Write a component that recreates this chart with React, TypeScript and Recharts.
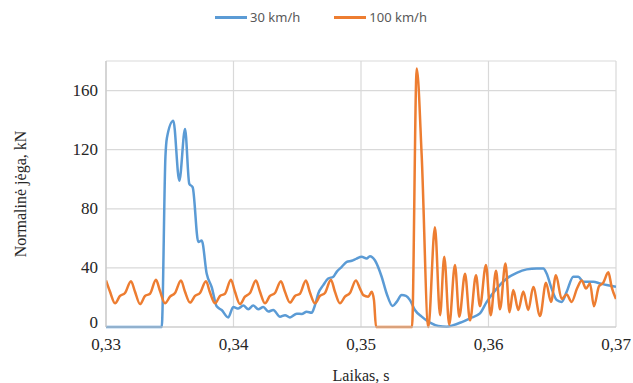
import React from 'react';
import { LineChart, Line, XAxis, YAxis, CartesianGrid, Legend } from 'recharts';

// Time axis (s) and normal force axis (kN)
const timeTicks = [0.33, 0.34, 0.35, 0.36, 0.37];
const forceTicks = [0, 40, 80, 120, 160];
const seriesNames = ['30 km/h', '100 km/h'];

// 30 km/h run
const blueTime = [
  0.33, 0.33437, 0.33466, 0.33478, 0.33528, 0.33575, 0.3362, 0.33653, 0.3368, 0.33724,
  0.33751, 0.3379, 0.33829, 0.33868, 0.33907, 0.33959, 0.33998, 0.34038, 0.34077, 0.34116,
  0.34155, 0.34194, 0.34234, 0.34273, 0.34312, 0.34365, 0.34404, 0.34443, 0.34496, 0.34535,
  0.34574, 0.34613, 0.34639, 0.34665, 0.34704, 0.34743, 0.34783, 0.34809, 0.34849, 0.34888,
  0.34927, 0.34966, 0.35005, 0.35044, 0.3507, 0.3511, 0.35162, 0.35201, 0.35248, 0.3528,
  0.35319, 0.35353, 0.35384, 0.35423, 0.35476, 0.35541, 0.35606, 0.35672, 0.35724, 0.35776,
  0.35855, 0.35933, 0.35986, 0.36064, 0.36143, 0.36221, 0.363, 0.36378, 0.3643, 0.36456,
  0.36495, 0.36535, 0.36574, 0.36613, 0.36665, 0.36704, 0.36744, 0.36822, 0.36874, 0.36927,
  0.37,
];
const blueForce = [
  0, 0, 115, 128, 139.5, 99, 134, 97, 94.5, 57.5,
  58.5, 36, 27, 14, 11.5, 6.5, 13.5, 12.5, 14.5, 12,
  14.5, 12, 13.5, 10.5, 11.5, 7, 8, 6.5, 9, 8.8,
  10.3, 9.6, 14.8, 22.7, 28.3, 32.8, 34, 37.3, 40.7, 44,
  44.8, 46.3, 47.5, 46.3, 47.9, 45, 34, 22.7, 14.2, 17,
  21.6, 21, 18.2, 11.5, 7, 2.9, 0.7, 0.2, 1.3, 2.9,
  5.9, 9.2, 17, 26, 32.8, 36.7, 39, 39.6, 39.6, 36.2,
  26, 18.2, 17, 23.8, 34, 34, 30.6, 30.6, 29.5, 28.4,
  27.2,
];

// 100 km/h run
const orangeTime = [
  0.33, 0.33031, 0.33071, 0.3311, 0.33149,
  0.33196, 0.33227, 0.33267, 0.33306, 0.33345,
  0.33392, 0.33423, 0.33463, 0.33502, 0.33541,
  0.33588, 0.33619, 0.33659, 0.33698, 0.33737,
  0.33784, 0.33815, 0.33855, 0.33894, 0.33933,
  0.3398, 0.34011, 0.34051, 0.3409, 0.34129,
  0.34176, 0.34207, 0.34247, 0.34286, 0.34325,
  0.34372, 0.34403, 0.34443, 0.34482, 0.34521,
  0.34568, 0.34599, 0.34639, 0.34678, 0.34717,
  0.34764, 0.34795, 0.34835, 0.34874, 0.34913,
  0.3496, 0.34992, 0.35018, 0.35057, 0.35084, 0.35102, 0.35118,
  0.354, 0.35437, 0.35476, 0.35528, 0.3558, 0.3562, 0.35653, 0.35692, 0.35737, 0.35771,
  0.35816, 0.35855, 0.35902, 0.35933, 0.3598, 0.36017, 0.36059, 0.3609, 0.36133, 0.36165,
  0.36194, 0.36234, 0.36273, 0.36312, 0.36351, 0.36404, 0.36451, 0.3649, 0.36529, 0.36574,
  0.36613, 0.36652, 0.36694, 0.36731, 0.36765, 0.36796, 0.36827, 0.36866, 0.369, 0.3694,
  0.36966, 0.37,
];
const orangeForce = [
  31.5, 24, 16, 21, 23,
  31, 24, 15.5, 21, 22.5,
  32, 24.5, 16, 20.5, 23,
  31.5, 24, 16.5, 21, 23,
  31, 23.5, 16, 21, 22.5,
  32, 24, 15.5, 20.5, 23,
  31.5, 24, 16, 21, 23,
  31, 24, 16.5, 21, 22.5,
  31.5, 23.5, 16, 21, 23,
  32, 24, 16, 20.5, 23,
  31.5, 26, 21.6, 20.5, 23.8, 18, 0,
  0, 175, 116, 0, 67.5, 8, 47.5, 1.5, 42, 7,
  36, 4.5, 35, 14, 42, 8, 38, 12, 43, 10,
  25, 11.5, 24, 11.5, 27, 7.5, 30, 17, 35, 19,
  22, 17, 26, 31.5, 26, 29.5, 14, 27.5, 30, 37,
  27, 19,
];

const blueData = blueTime.map((t, i) => ({ t, force: blueForce[i] }));
const orangeData = orangeTime.map((t, i) => ({ t, force: orangeForce[i] }));

const serif = '"Liberation Serif", "Times New Roman", serif';
const gridColor = '#d9d9d9';
const textColor = '#262626';

const formatTime = (v: number) => v.toFixed(2).replace('.', ',');

function LegendContent({ payload }: any) {
  const items = [...(payload || [])].sort(
    (a: any, b: any) => seriesNames.indexOf(a.value) - seriesNames.indexOf(b.value)
  );
  return (
    <div style={{ height: 56, display: 'flex', justifyContent: 'center', paddingLeft: 14 }}>
      {items.map((entry: any) => (
        <div
          key={entry.value}
          style={{ display: 'flex', alignItems: 'center', height: 24, marginRight: 34 }}
        >
          <span
            style={{ display: 'inline-block', width: 32, height: 3, background: entry.color, marginRight: 3 }}
          />
          <span style={{ fontFamily: '"Noto Sans", sans-serif', fontSize: 13, color: '#595959' }}>
            {entry.value}
          </span>
        </div>
      ))}
    </div>
  );
}

// y tick labels; the zero label sits a little above the baseline
function ForceTick({ x, y, payload }: any) {
  const shift = payload.value === 0 ? -5 : 0;
  return (
    <text
      x={x}
      y={y + shift}
      textAnchor="end"
      dominantBaseline="central"
      fill={textColor}
      fontSize={17}
      fontFamily={serif}
    >
      {payload.value}
    </text>
  );
}

export default function App() {
  return (
    <div style={{ position: 'absolute', left: 0, top: 0, width: 633, height: 383, background: '#fff' }}>
      <LineChart width={633} height={383} margin={{ top: 5, right: 17, bottom: 26, left: 46 }}>
        <CartesianGrid stroke={gridColor} strokeWidth={1.2} />
        <XAxis
          dataKey="t"
          type="number"
          domain={[0.33, 0.37]}
          ticks={timeTicks}
          tickFormatter={formatTime}
          allowDataOverflow
          height={30}
          tickLine={false}
          tickSize={0}
          tickMargin={11}
          axisLine={{ stroke: '#c8c8c8', strokeWidth: 1.2 }}
          tick={{ fill: textColor, fontSize: 17, fontFamily: serif }}
          label={{
            content: ({ viewBox }: any) => (
              <text
                x={viewBox.x + viewBox.width / 2}
                y={viewBox.y + 50}
                textAnchor="middle"
                dominantBaseline="middle"
                fill={textColor}
                fontSize={16}
                fontFamily={serif}
              >
                Laikas, s
              </text>
            ),
          }}
        />
        <YAxis
          type="number"
          domain={[0, 180]}
          ticks={forceTicks}
          width={60}
          tickLine={false}
          tickSize={0}
          tickMargin={8}
          axisLine={{ stroke: '#c8c8c8', strokeWidth: 1.2 }}
          tick={<ForceTick />}
          label={{
            content: ({ viewBox }: any) => {
              const cx = viewBox.x - 24;
              const cy = viewBox.y + viewBox.height / 2;
              return (
                <text
                  x={cx}
                  y={cy}
                  transform={`rotate(-90 ${cx} ${cy})`}
                  textAnchor="middle"
                  dominantBaseline="middle"
                  fill={textColor}
                  fontSize={16}
                  fontFamily={serif}
                >
                  Normalinė jėga, kN
                </text>
              );
            },
          }}
        />
        <Legend verticalAlign="top" content={<LegendContent />} />
        <Line
          data={blueData}
          dataKey="force"
          name="30 km/h"
          type="monotone"
          stroke="#5b9bd5"
          strokeWidth={2.5}
          dot={false}
          isAnimationActive={false}
        />
        <Line
          data={orangeData}
          dataKey="force"
          name="100 km/h"
          type="monotone"
          stroke="#ed7d31"
          strokeWidth={2.5}
          dot={false}
          isAnimationActive={false}
        />
      </LineChart>
    </div>
  );
}
